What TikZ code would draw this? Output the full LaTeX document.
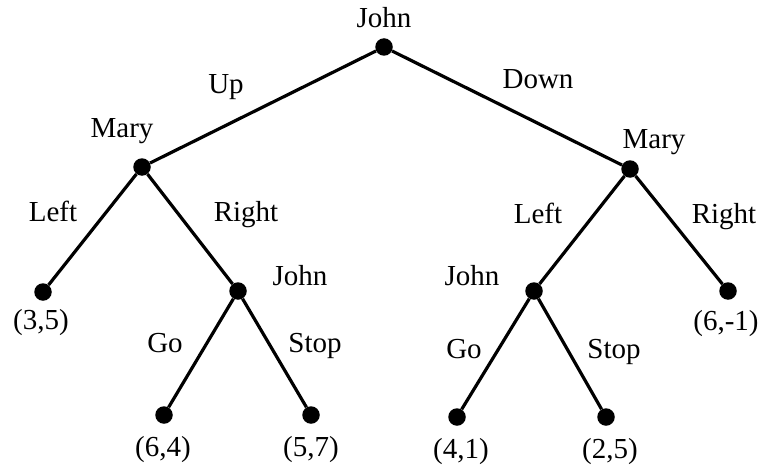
\documentclass[tikz,border=0pt]{standalone}
\usepackage{fontspec}
\setmainfont{Liberation Serif}
\begin{document}
\begin{tikzpicture}[x=1pt,y=-1pt,
  dot/.style={circle,fill=black,inner sep=0pt,minimum size=17.5pt},
  edge/.style={line width=3.2pt},
  lbl/.style={anchor=base,inner sep=0pt,font=\fontsize{29}{34}\selectfont}]
\useasboundingbox (0,0) rectangle (762,468);
% decision nodes and leaves
\node[dot] (r)  at (384,47) {};
\node[dot] (m1) at (142,167) {};
\node[dot] (m2) at (630,169) {};
\node[dot] (l1) at (43,292) {};
\node[dot] (j1) at (238,291) {};
\node[dot] (j2) at (534,291) {};
\node[dot] (l2) at (728,291) {};
\node[dot] (l3) at (164,415) {};
\node[dot] (l4) at (311,415) {};
\node[dot] (l5) at (457,417) {};
\node[dot] (l6) at (606,417) {};
% edges
\draw[edge] (r) -- (m1);
\draw[edge] (r) -- (m2);
\draw[edge] (m1) -- (l1);
\draw[edge] (m1) -- (j1);
\draw[edge] (m2) -- (j2);
\draw[edge] (m2) -- (l2);
\draw[edge] (j1) -- (l3);
\draw[edge] (j1) -- (l4);
\draw[edge] (j2) -- (l5);
\draw[edge] (j2) -- (l6);
% player labels
\node[lbl] (tr)  at (384,28) {John};
\node[lbl] (tm1) at (122,137) {Mary};
\node[lbl] (tm2) at (654,148) {Mary};
\node[lbl] (tj1) at (300,285) {John};
\node[lbl] (tj2) at (472,285) {John};
% action labels
\node[lbl] (aup) at (226,94) {Up};
\node[lbl] (adn) at (538,89) {Down};
\node[lbl] (al1) at (53,221) {Left};
\node[lbl] (ar1) at (246,221) {Right};
\node[lbl] (al2) at (538,223) {Left};
\node[lbl] (ar2) at (724,223) {Right};
\node[lbl] (ag1) at (165,352) {Go};
\node[lbl] (as1) at (315,352) {Stop};
\node[lbl] (ag2) at (464,358) {Go};
\node[lbl] (as2) at (614,358) {Stop};
% payoffs
\node[lbl] (p1) at (41,329) {(3,5)};
\node[lbl] (p2) at (726,330) {(6,-1)};
\node[lbl] (p3) at (163,456) {(6,4)};
\node[lbl] (p4) at (311,456) {(5,7)};
\node[lbl] (p5) at (461,458) {(4,1)};
\node[lbl] (p6) at (610,458) {(2,5)};
\end{tikzpicture}
\end{document}
